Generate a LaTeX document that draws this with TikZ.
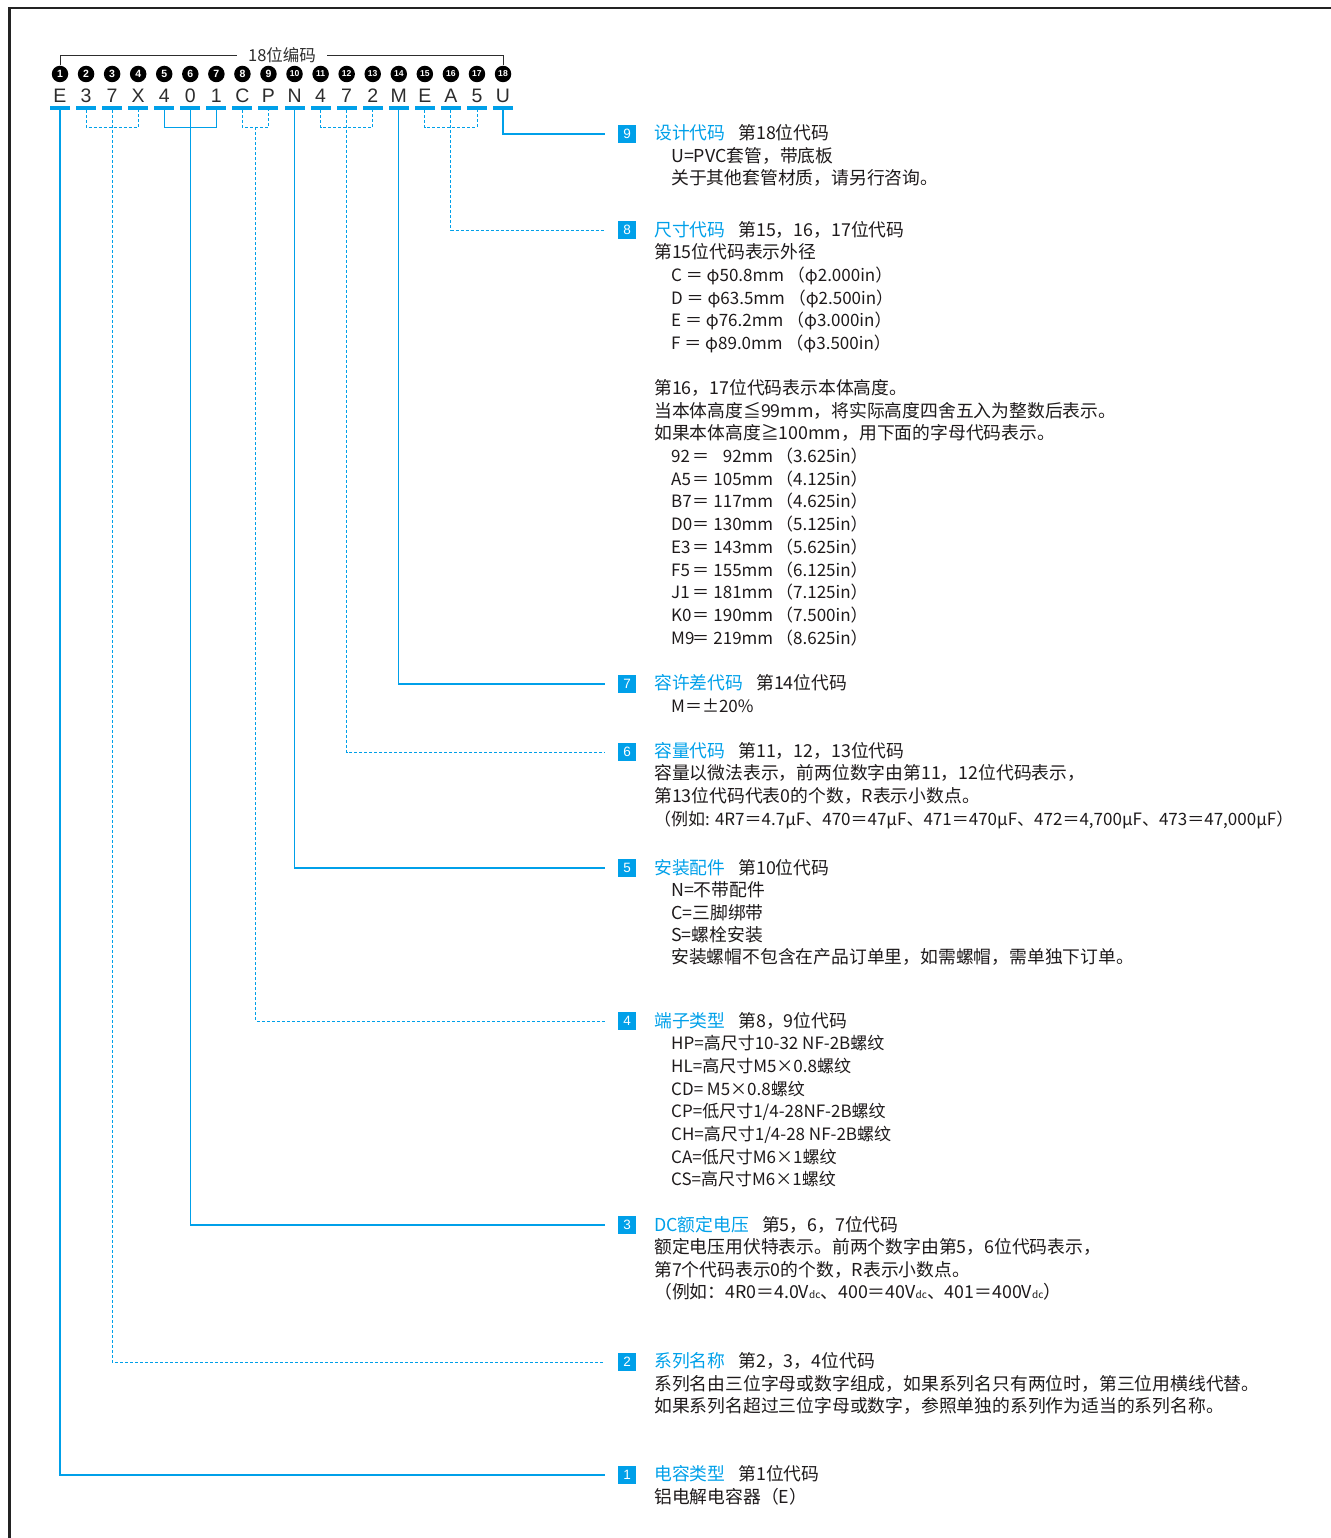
\documentclass[tikz,border=0pt]{standalone}
\usepackage{fontspec}
\setmainfont{Noto Sans CJK SC}
\newfontfamily\lat{Liberation Sans}
\usetikzlibrary{calc}
\definecolor{cy}{RGB}{0,160,233}
\definecolor{ink}{RGB}{30,26,27}
\definecolor{frame}{RGB}{35,35,35}
\definecolor{letc}{RGB}{45,45,45}
\begin{document}
\begin{tikzpicture}[x=1pt,y=-1pt,
  txt/.style={anchor=west,inner sep=0pt,text height=15pt,text depth=2pt,font=\fontsize{17.8}{20}\selectfont,text=ink},
  txs/.style={txt,font=\fontsize{17}{20}\selectfont},
  hdr/.style={inner xsep=11pt,inner ysep=0pt,text height=14pt,text depth=2pt,font=\fontsize{16.5}{18}\selectfont,text=letc},
  circ/.style={circle,fill=black,inner sep=0pt,minimum size=16.5pt,text=white,font=\lat\bfseries\fontsize{10.5}{10}\selectfont},
  circw/.style={circ,font=\lat\bfseries\fontsize{8.6}{8}\selectfont},
  let/.style={inner sep=0pt,text=letc,font=\lat\fontsize{19.5}{20}\selectfont},
  bar/.style={rectangle,fill=cy,inner sep=0pt,minimum width=20pt,minimum height=3.2pt},
  num/.style={rectangle,fill=cy,inner sep=0pt,minimum size=18pt,text=white,font=\lat\fontsize{13.5}{13}\selectfont},
  sol0/.style={draw=cy,line width=1.3pt},
  sol/.style={sol0,shorten >=13pt},
  dsh0/.style={draw=cy,line width=0.9pt,dash pattern=on 3pt off 2pt},
  dsh/.style={dsh0,shorten >=13pt},
  hline/.style={draw=letc,line width=1pt}]
\useasboundingbox (0,0) rectangle (1330,1538);
% frame
\draw[frame,line width=2.5pt] (9.7,1540) -- (9.7,7.8) -- (1332,7.8);
% header
\node[hdr] (hd) at (282,56) {18位编码};
\coordinate (hl) at (60,65);
\coordinate (hr) at (503,65);
\draw[hline] (hl) |- (hd.west);
\draw[hline] (hr) |- (hd.east);
% circled numbers, letters, bars
\foreach \c [count=\i] in {E,3,7,X,4,0,1,C,P,N,4,7,2,M,E,A,5,U}{
  \pgfmathsetmacro{\xx}{60+(\i-1)*26.06}
  \ifnum\i>9
    \node[circw] (c\i) at (\xx,74) {\i};
  \else
    \node[circ] (c\i) at (\xx,74) {\i};
  \fi
  \node[let] (l\i) at (\xx,95.5) {\c};
  \node[bar] (b\i) at (\xx,108) {};
}
% number boxes
\node[num] (n9) at (627,134) {9};
\node[num] (n8) at (627,230) {8};
\node[num] (n7) at (627,684) {7};
\node[num] (n6) at (627,752) {6};
\node[num] (n5) at (627,868) {5};
\node[num] (n4) at (627,1021) {4};
\node[num] (n3) at (627,1225) {3};
\node[num] (n2) at (627,1362) {2};
\node[num] (n1) at (627,1475) {1};
% connectors
\draw[sol] (b1.south) |- (n1.west);
\draw[dsh0] (b2.south) -- ++(0,17.5) -| (b4.south);
\draw[dsh] (b3.south) |- (n2.west);
\draw[sol0] (b5.south) -- ++(0,17.5) -| (b7.south);
\draw[sol] (b6.south) |- (n3.west);
\draw[dsh0] (b8.south) -- ++(0,17.5) -| (b9.south);
\coordinate (m4) at ($(b8.south)!0.5!(b9.south)+(0,17.5)$);
\draw[dsh] (m4) |- (n4.west);
\draw[sol] (b10.south) |- (n5.west);
\draw[dsh0] (b11.south) -- ++(0,17.5) -| (b13.south);
\draw[dsh] (b12.south) |- (n6.west);
\draw[sol] (b14.south) |- (n7.west);
\draw[dsh0] (b15.south) -- ++(0,17.5) -| (b17.south);
\draw[dsh] (b16.south) |- (n8.west);
\draw[sol] (b18.south) |- (n9.west);
% block 9
\node[txt] (t9) at (654,133) {\textcolor{cy}{设计代码}\hspace{13pt}第18位代码};
\node[txt] (t9a) at (671,156) {U=PVC套管，带底板};
\node[txt] (t9b) at (671,178) {关于其他套管材质，请另行咨询。};
% block 8
\node[txt] (t8) at (654,230) {\textcolor{cy}{尺寸代码}\hspace{13pt}第15，16，17位代码};
\node[txt] (t8a) at (654,252) {第15位代码表示外径};
\node[txs] (t8b) at (671,275) {C ＝ φ50.8mm （φ2.000in）};
\node[txs] (t8c) at (671,298) {D ＝ φ63.5mm （φ2.500in）};
\node[txs] (t8d) at (671,320) {E ＝ φ76.2mm （φ3.000in）};
\node[txs] (t8e) at (671,343) {F ＝ φ89.0mm （φ3.500in）};
\node[txt] (t8f) at (654,388) {第16，17位代码表示本体高度。};
\node[txt] (t8g) at (654,411) {当本体高度≦99mm，将实际高度四舍五入为整数后表示。};
\node[txt] (t8h) at (654,433) {如果本体高度≧100mm，用下面的字母代码表示。};
\foreach \k/\v/\w/\yy [count=\j] in {92/92/3.625/456, A5/105/4.125/479, B7/117/4.625/501, D0/130/5.125/524, E3/143/5.625/547, F5/155/6.125/570, J1/181/7.125/592, K0/190/7.500/615, M9/219/8.625/638}{
  \node[txs] (h\j) at (671,\yy) {\makebox[21pt][l]{\k}＝\makebox[64pt][r]{\v mm}\hspace{3pt}（\w in）};
}
% block 7
\node[txt] (t7) at (654,683) {\textcolor{cy}{容许差代码}\hspace{13pt}第14位代码};
\node[txs] (t7a) at (671,706) {M＝±20\%};
% block 6
\node[txt] (t6) at (654,751) {\textcolor{cy}{容量代码}\hspace{13pt}第11，12，13位代码};
\node[txt] (t6a) at (654,773) {容量以微法表示，前两位数字由第11，12位代码表示，};
\node[txt] (t6b) at (654,796) {第13位代码代表0的个数，R表示小数点。};
\node[txs] (t6c) at (654,819) {（例如: 4R7＝4.7μF、470＝47μF、471＝470μF、472＝4,700μF、473＝47,000μF）};
% block 5
\node[txt] (t5) at (654,868) {\textcolor{cy}{安装配件}\hspace{13pt}第10位代码};
\node[txt] (t5a) at (671,890) {N=不带配件};
\node[txt] (t5b) at (671,913) {C=三脚绑带};
\node[txt] (t5c) at (671,935) {S=螺栓安装};
\node[txt] (t5d) at (671,957) {安装螺帽不包含在产品订单里，如需螺帽，需单独下订单。};
% block 4
\node[txt] (t4) at (654,1021) {\textcolor{cy}{端子类型}\hspace{13pt}第8，9位代码};
\node[txs] (t4a) at (671,1043) {HP=高尺寸10-32 NF-2B螺纹};
\node[txs] (t4b) at (671,1066) {HL=高尺寸M5×0.8螺纹};
\node[txs] (t4c) at (671,1089) {CD= M5×0.8螺纹};
\node[txs] (t4d) at (671,1111) {CP=低尺寸1/4-28NF-2B螺纹};
\node[txs] (t4e) at (671,1134) {CH=高尺寸1/4-28 NF-2B螺纹};
\node[txs] (t4f) at (671,1157) {CA=低尺寸M6×1螺纹};
\node[txs] (t4g) at (671,1179) {CS=高尺寸M6×1螺纹};
% block 3
\node[txt] (t3) at (654,1225) {\textcolor{cy}{DC额定电压}\hspace{13pt}第5，6，7位代码};
\node[txt] (t3a) at (654,1247) {额定电压用伏特表示。前两个数字由第5，6位代码表示，};
\node[txt] (t3b) at (654,1270) {第7个代码表示0的个数，R表示小数点。};
\node[txt] (t3c) at (654,1292) {（例如：4R0＝4.0V{\fontsize{10}{10}\selectfont dc}、400＝40V{\fontsize{10}{10}\selectfont dc}、401＝400V{\fontsize{10}{10}\selectfont dc}）};
% block 2
\node[txt] (t2) at (654,1361) {\textcolor{cy}{系列名称}\hspace{13pt}第2，3，4位代码};
\node[txt] (t2a) at (654,1384) {系列名由三位字母或数字组成，如果系列名只有两位时，第三位用横线代替。};
\node[txt] (t2b) at (654,1406) {如果系列名超过三位字母或数字，参照单独的系列作为适当的系列名称。};
% block 1
\node[txt] (t1) at (654,1474) {\textcolor{cy}{电容类型}\hspace{13pt}第1位代码};
\node[txt] (t1a) at (654,1497) {铝电解电容器（E）};
\end{tikzpicture}
\end{document}
